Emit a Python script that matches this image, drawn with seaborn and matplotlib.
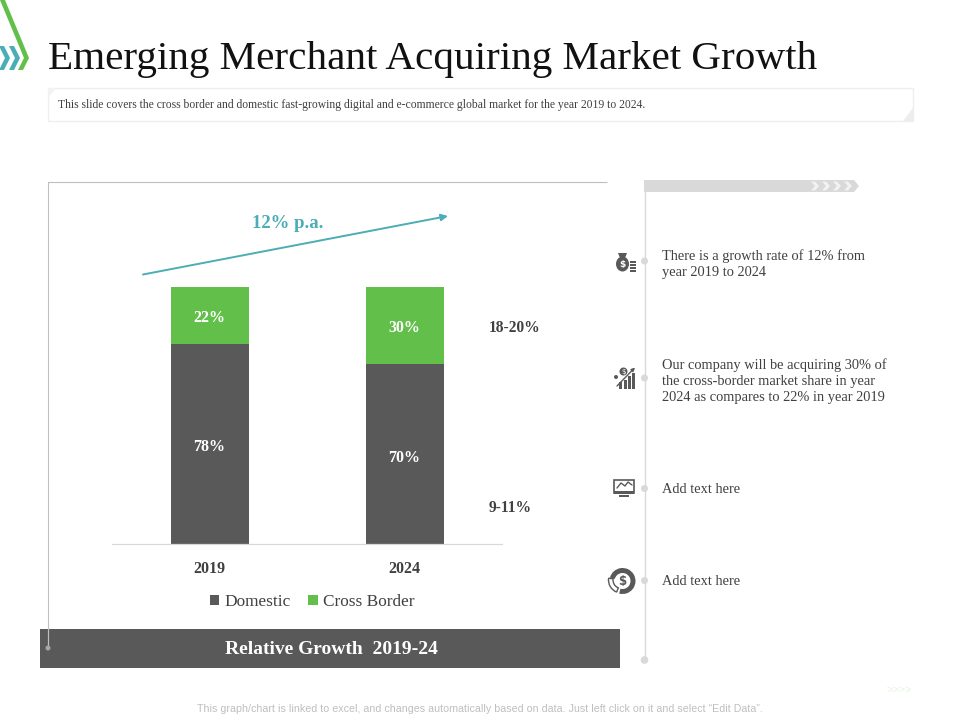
import matplotlib
matplotlib.use("Agg")
import matplotlib.pyplot as plt
from matplotlib.patches import Rectangle, Polygon, Circle, Wedge, Ellipse, FancyArrowPatch
import pandas as pd
import seaborn as sns

years = ["2019", "2024"]
domestic = [78, 70]
cross_border = [22, 30]
growth_labels = ["18-20%", "9-11%"]
notes = ["There is a growth rate of 12% from\nyear 2019 to 2024",
         "Our company will be acquiring 30% of\nthe cross-border market share in year\n2024 as compares to 22% in year 2019",
         "Add text here", "Add text here"]
title = "Emerging Merchant Acquiring Market Growth"
subtitle = "This slide covers the cross border and domestic fast-growing digital and e-commerce global market for the year 2019 to 2024."
footer = "This graph/chart is linked to excel, and changes automatically based on data. Just left click on it and select \u201cEdit Data\u201d."

DARK = "#595959"; GREEN = "#62C04A"; TEAL = "#4BADB5"; GREY = "#D9D9D9"; TXT = "#404040"
sns.set_theme(style="white")
plt.rcParams["font.family"] = ["Liberation Serif", "DejaVu Serif"]
SERIF = ["Liberation Serif", "DejaVu Serif"]

W, H = 960, 720
fig = plt.figure(figsize=(9.6, 7.2), dpi=100)

# overlay in pixel coordinates for slide furniture
bg = fig.add_axes([0, 0, 1, 1], zorder=0)
bg.set_xlim(0, W); bg.set_ylim(H, 0); bg.axis("off")

# chart axes
ax = fig.add_axes([112 / W, 1 - 544 / H, 390 / W, 257 / H], zorder=1)
ax.patch.set_alpha(0)
df = pd.DataFrame({"year": years, "Domestic": domestic, "Cross Border": cross_border})
sns.barplot(data=df, x="year", y="Domestic", color=DARK, width=0.4, saturation=1, ax=ax,
            label="Domestic", linewidth=0)
sns.barplot(data=df, x="year", y="Cross Border", color=GREEN, width=0.4, saturation=1, ax=ax,
            bottom=df["Domestic"], label="Cross Border", linewidth=0)
ax.set_xlim(-0.5, 1.5); ax.set_ylim(0, 100)
ax.set_xlabel(""); ax.set_ylabel(""); ax.set_yticks([])
ax.tick_params(axis="x", length=0, pad=12)
for t in ax.get_xticklabels():
    t.set_fontsize(11.5); t.set_fontweight("bold"); t.set_color(TXT); t.set_family(SERIF)
for s in ["top", "left", "right"]:
    ax.spines[s].set_visible(False)
ax.spines["bottom"].set_color("#D9D9D9"); ax.spines["bottom"].set_linewidth(0.9)
for i, (d, c) in enumerate(zip(domestic, cross_border)):
    ax.text(i, d / 2 - 1.4, f"{d}%", ha="center", va="center", color="white", fontsize=11.5, fontweight="bold")
    ax.text(i, d + c / 2 - 1.0, f"{c}%", ha="center", va="center", color="white", fontsize=11.5, fontweight="bold")
leg = ax.legend(loc="upper center", bbox_to_anchor=(0.513, -0.135), ncol=2, frameon=False, fontsize=12.4,
                handlelength=0.55, handleheight=0.55, handletextpad=0.3, columnspacing=1.05, labelcolor=TXT)

# header
bg.add_patch(Polygon([[0, 0], [5, 0], [29, 58], [23, 70], [18, 70], [24, 58]], color=GREEN, lw=0))
for x0 in (-1, 9):
    bg.add_patch(Polygon([[x0, 46], [x0 + 5, 46], [x0 + 11, 58], [x0 + 5, 70], [x0, 70], [x0 + 6, 58]],
                         color=TEAL, lw=0))
bg.text(48, 59, title, fontsize=29.6, color="#111111", va="center", ha="left")
bg.add_patch(Rectangle((48, 88), 865, 33, fc="white", ec="#EFEFEF", lw=1))
bg.add_patch(Polygon([[48, 88], [56, 88], [48, 98]], color="#F2F2F2", lw=0))
bg.add_patch(Polygon([[913, 121], [903, 121], [913, 108]], color="#EDEDED", lw=0))
bg.text(58, 105, subtitle, fontsize=8.4, color=TXT, va="center", ha="left")

# chart frame
bg.plot([607, 48, 48], [182, 182, 648], color="#BFBFBF", lw=0.8, solid_capstyle="butt")
bg.add_patch(Rectangle((40, 629), 580, 39, fc=DARK, ec="none"))
bg.plot([48, 48], [629, 648], color="#BFBFBF", lw=0.8, zorder=3)
bg.add_patch(Circle((48, 648), 2.5, fc="#A6A6A6", ec="none", zorder=3))
bg.text(331, 650, "Relative Growth  2019-24", fontsize=14, color="white", fontweight="bold",
        ha="center", va="center", zorder=3)

# growth arrow
bg.add_patch(FancyArrowPatch((143, 274.5), (448, 216), arrowstyle="-|>", mutation_scale=10, color=TEAL, lw=1.4,
                             shrinkA=0, shrinkB=0))
bg.text(288, 224, "12% p.a.", fontsize=13.5, fontweight="bold", color=TEAL, ha="center", va="center")
bg.text(489, 328, growth_labels[0], fontsize=11.2, fontweight="bold", color=TXT, ha="left", va="center")
bg.text(489, 508, growth_labels[1], fontsize=11.2, fontweight="bold", color=TXT, ha="left", va="center")

# right column
bg.plot([644.5, 644.5], [180, 660], color=GREY, lw=1.0)
bg.add_patch(Polygon([[644, 180], [854, 180], [859, 186], [854, 192], [644, 192]], color=GREY, lw=0))
for x0 in (811, 822, 833, 844):
    bg.add_patch(Polygon([[x0, 181.5], [x0 + 4, 181.5], [x0 + 8, 186], [x0 + 4, 190.5], [x0, 190.5], [x0 + 4, 186]],
                         fc="#F2F2F2", ec="none"))
dot_y = [261, 378, 488.5, 580.5]
text_y = [264.5, 381, 489.5, 581.5]
for y, ty, note in zip(dot_y, text_y, notes):
    bg.add_patch(Circle((644.5, y), 3.5, fc=GREY, ec="none", zorder=3))
    bg.text(662, ty, note, fontsize=10.4, color=TXT, va="center", ha="left", linespacing=1.32)
bg.add_patch(Circle((644.5, 660), 3.8, fc=GREY, ec="none", zorder=3))

# icons: money bag
bg.add_patch(Ellipse((622.5, 264), 13, 15, fc=DARK, ec="none"))
bg.add_patch(Polygon([[618, 253], [627, 253], [625, 258], [620, 258]], color=DARK, lw=0))
bg.text(622.5, 264.5, "$", color="white", fontsize=6.5, fontweight="bold", ha="center", va="center", family=["DejaVu Sans"])
for y in (261, 264, 267, 270):
    bg.add_patch(Rectangle((630, y), 5.5, 2, fc=DARK, ec="none"))
# icon: bars with arrow
for x0, top in ((619, 382), (623.5, 380), (628, 376), (632, 373)):
    bg.add_patch(Rectangle((x0, top), 3, 389 - top, fc=DARK, ec="none"))
bg.add_patch(FancyArrowPatch((617, 386), (635, 367.5), arrowstyle="-|>", mutation_scale=5, color=DARK, lw=1,
                             shrinkA=0, shrinkB=0, zorder=3))
bg.add_patch(Circle((623.5, 371.5), 4, fc=DARK, ec="none"))
bg.text(623.5, 371.7, "$", color="white", fontsize=5, ha="center", va="center", family=["DejaVu Sans"])
bg.add_patch(Circle((616, 377), 2, fc=DARK, ec="none"))
# icon: monitor
bg.add_patch(Rectangle((614, 479.5), 20, 13.5, fc="white", ec=DARK, lw=1.2))
bg.add_patch(Rectangle((614, 490.5), 20, 3, fc=DARK, ec="none"))
bg.add_patch(Rectangle((619, 494.5), 10, 2.5, fc=DARK, ec="none"))
bg.plot([617, 621, 625, 628, 632], [488, 483, 486, 482, 485], color=DARK, lw=1)
# icon: donut
bg.add_patch(Wedge((622.5, 581), 13, 195, 465, width=5, fc=DARK, ec="none"))
bg.add_patch(Wedge((621.5, 580), 13, 112, 188, width=4.5, fc="white", ec=DARK, lw=1))
bg.text(622.5, 581.5, "$", color=DARK, fontsize=8.5, fontweight="bold", ha="center", va="center", family=["DejaVu Sans"])

# footer
bg.text(480, 708.5, footer, fontsize=7.62, color="#BFBFBF", ha="center", va="center", family=["Liberation Sans"])
bg.text(899, 690, ">>>>", fontsize=8, color="#E4F4DF", ha="center", va="center", family=["Liberation Sans"])

fig.savefig("out.png", dpi=100, facecolor="white")
